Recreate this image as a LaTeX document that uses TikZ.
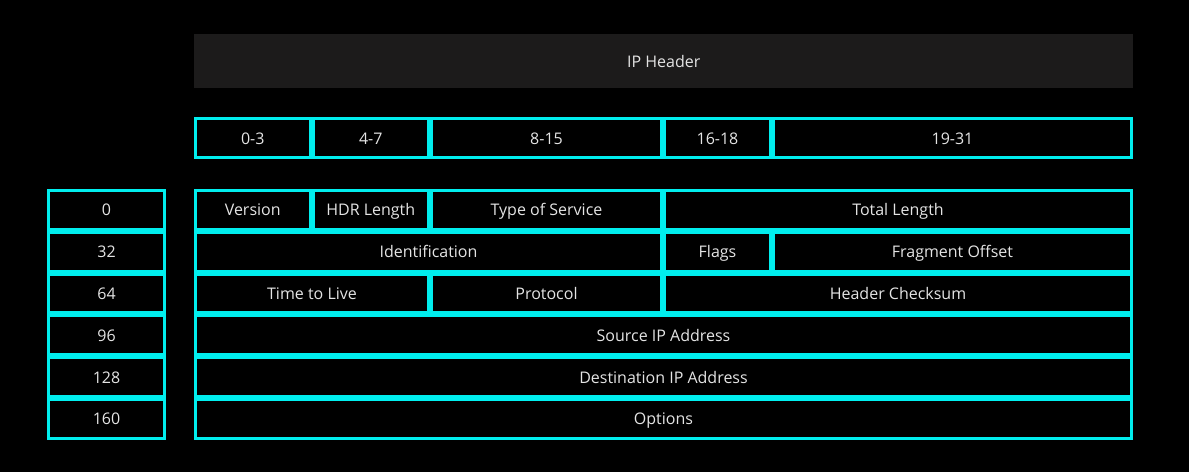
\documentclass[tikz,border=0pt]{standalone}
\usepackage{fontspec}
\setmainfont{Open Sans}
\usepackage{tikz}
\usetikzlibrary{positioning}

\definecolor{cellline}{RGB}{0,238,238}
\definecolor{headfill}{RGB}{28,27,27}
\definecolor{celltext}{RGB}{228,228,228}

\tikzset{
  cell/.style={draw=cellline, line width=3pt, text=celltext, inner sep=0pt,
    text height=12pt, text depth=0pt,
    minimum height=38.8pt, font=\fontsize{16}{19}\selectfont},
  bitcell/.style={cell, minimum height=39pt},
  header/.style={fill=headfill, text=celltext, inner sep=0pt,
    text height=12pt, text depth=0pt,
    font=\fontsize{16}{19}\selectfont}
}

\begin{document}
\begin{tikzpicture}[x=1pt, y=-1pt, node distance=0pt]
\fill[black] (0,0) rectangle (1189,472);

\node (ipheader) [header, minimum width=939pt, minimum height=54pt, anchor=north west] at (194,34) {IP Header};

% bit ranges
\node (bits03) [bitcell, minimum width=114.5pt, anchor=north west] at (194,117) {0-3};
\node (bits47) [bitcell, minimum width=115.5pt, right=of bits03] {4-7};
\node (bits815) [bitcell, minimum width=230pt, right=of bits47] {8-15};
\node (bits1618) [bitcell, minimum width=106pt, right=of bits815] {16-18};
\node (bits1931) [bitcell, minimum width=358pt, right=of bits1618] {19-31};

% offsets
\node (off0) [cell, minimum width=116pt, anchor=north west] at (47,189) {0};
\node (off32) [cell, minimum width=116pt, below=of off0] {32};
\node (off64) [cell, minimum width=116pt, below=of off32] {64};
\node (off96) [cell, minimum width=116pt, below=of off64] {96};
\node (off128) [cell, minimum width=116pt, below=of off96] {128};
\node (off160) [cell, minimum width=116pt, below=of off128] {160};

% header fields
\node (version) [cell, minimum width=114.5pt, anchor=north west] at (194,189) {Version};
\node (hdrlength) [cell, minimum width=115.5pt, right=of version] {HDR Length};
\node (tos) [cell, minimum width=230pt, right=of hdrlength] {Type of Service};
\node (totallength) [cell, minimum width=467pt, right=of tos] {Total Length};

\node (ident) [cell, minimum width=466pt, below=of version.south west, anchor=north west] {Identification};
\node (flags) [cell, minimum width=106pt, right=of ident] {Flags};
\node (fragoffset) [cell, minimum width=358pt, right=of flags] {Fragment Offset};

\node (ttl) [cell, minimum width=233pt, below=of ident.south west, anchor=north west] {Time to Live};
\node (protocol) [cell, minimum width=230pt, right=of ttl] {Protocol};
\node (checksum) [cell, minimum width=467pt, right=of protocol] {Header Checksum};

\node (srcaddr) [cell, minimum width=936pt, below=of ttl.south west, anchor=north west] {Source IP Address};
\node (dstaddr) [cell, minimum width=936pt, below=of srcaddr] {Destination IP Address};
\node (options) [cell, minimum width=936pt, below=of dstaddr] {Options};

\end{tikzpicture}
\end{document}
